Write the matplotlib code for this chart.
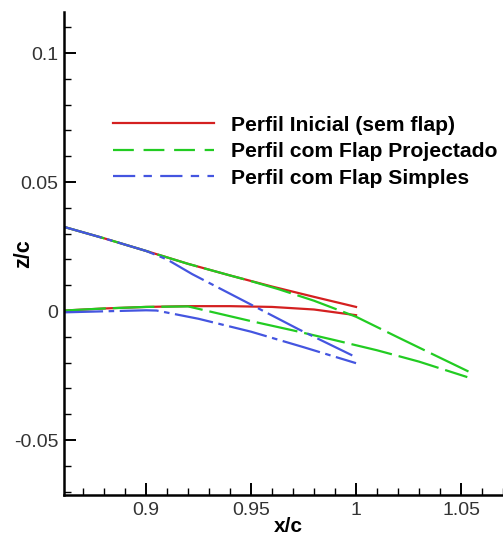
import numpy as np
import matplotlib
matplotlib.use("Agg")
import matplotlib.pyplot as plt
from matplotlib.lines import Line2D

plt.rcParams['font.family'] = ['Liberation Sans', 'DejaVu Sans']
plt.rcParams['lines.scale_dashes'] = False

# trailing-edge region of the three profiles (x/c, z/c), upper and lower surfaces
ini_up_x = [0.861, 0.88, 0.90, 0.92, 0.94, 0.96, 0.98, 1.00]
ini_up_z = [0.0326, 0.0282, 0.0233, 0.0183, 0.0138, 0.0095, 0.0055, 0.0016]
ini_lo_x = [0.861, 0.88, 0.90, 0.92, 0.94, 0.96, 0.98, 1.00]
ini_lo_z = [0.0002, 0.0010, 0.0016, 0.0019, 0.0019, 0.0016, 0.0006, -0.0016]

proj_up_x = [0.861, 0.88, 0.90, 0.92, 0.94, 0.95, 0.963, 0.98, 1.00, 1.02, 1.04, 1.054]
proj_up_z = [0.0326, 0.0282, 0.0233, 0.0183, 0.0138, 0.0116, 0.0085, 0.0040, -0.0022, -0.0102, -0.0181, -0.0236]
proj_lo_x = [0.861, 0.88, 0.90, 0.92, 0.95, 0.97, 0.99, 1.01, 1.03, 1.053]
proj_lo_z = [0.0002, 0.0010, 0.0016, 0.0018, -0.0039, -0.0075, -0.0113, -0.0152, -0.0196, -0.0256]

simp_up_x = [0.861, 0.88, 0.90, 0.91, 0.922, 0.95, 0.9725, 1.00]
simp_up_z = [0.0326, 0.0282, 0.0233, 0.0200, 0.0143, 0.0025, -0.0070, -0.0179]
simp_lo_x = [0.861, 0.88, 0.90, 0.905, 0.925, 0.95, 0.975, 1.00]
simp_lo_z = [-0.0005, -0.0001, 0.0003, 0.0002, -0.0030, -0.0080, -0.0140, -0.0202]

labels = ["Perfil Inicial (sem flap)", "Perfil com Flap Projectado", "Perfil com Flap Simples"]
red, green, blue = "#d42020", "#22cc22", "#4455e0"

fig = plt.figure(figsize=(5.03, 5.39), dpi=100)
ax = fig.add_axes([0.1272, 0.0816, 0.8728, 0.8961])

lw = 1.6
proj_dash = (0, (30, 5))
simp_dash = (0, (28, 4, 4, 4))
ax.plot(ini_up_x, ini_up_z, color=red, lw=lw)
ax.plot(ini_lo_x, ini_lo_z, color=red, lw=lw)
ax.plot(proj_up_x, proj_up_z, color=green, lw=lw, linestyle=proj_dash)
ax.plot(proj_lo_x, proj_lo_z, color=green, lw=lw, linestyle=proj_dash)
ax.plot(simp_up_x, simp_up_z, color=blue, lw=lw, linestyle=simp_dash)
ax.plot(simp_lo_x, simp_lo_z, color=blue, lw=lw, linestyle=simp_dash)

ax.set_xlim(0.8609, 1.0679)
ax.set_ylim(-0.0713, 0.1159)

for side in ("top", "right"):
    ax.spines[side].set_visible(False)
for side in ("left", "bottom"):
    ax.spines[side].set_linewidth(1.8)

ax.set_xticks([0.9, 0.95, 1.0, 1.05])
ax.set_xticklabels(["0.9", "0.95", "1", "1.05"])
ax.set_yticks([-0.05, 0, 0.05, 0.1])
ax.set_yticklabels(["-0.05", "0", "0.05", "0.1"])
ax.set_xticks(np.arange(0.87, 1.07, 0.01), minor=True)
ax.set_yticks(np.arange(-0.07, 0.115, 0.01), minor=True)
ax.tick_params(which="major", direction="in", length=8.6, width=1.4,
               labelsize=14, labelcolor="#333333")
ax.tick_params(which="minor", direction="in", length=5, width=1.0)
ax.tick_params(axis="y", pad=4)
ax.tick_params(axis="x", pad=5)

ax.set_xlabel("x/c", fontsize=15, fontweight="bold")
ax.set_ylabel("z/c", fontsize=15.5, fontweight="bold")
ax.xaxis.set_label_coords(0.51, -0.046)
ax.yaxis.set_label_coords(-0.068, 0.5)

handles = [
    Line2D([], [], color=red, lw=lw),
    Line2D([], [], color=green, lw=lw, linestyle=(0, (15, 7))),
    Line2D([], [], color=blue, lw=lw, linestyle=(0, (16, 6, 6, 6))),
]
leg = ax.legend(handles, labels, loc="upper left", bbox_to_anchor=(0.1116, 0.785),
                frameon=False, handlelength=4.8, handletextpad=0.8,
                labelspacing=0.35, borderpad=0, borderaxespad=0,
                prop={"family": "Liberation Sans", "weight": "bold", "size": 15.2})

fig.savefig("out.png", dpi=100)
